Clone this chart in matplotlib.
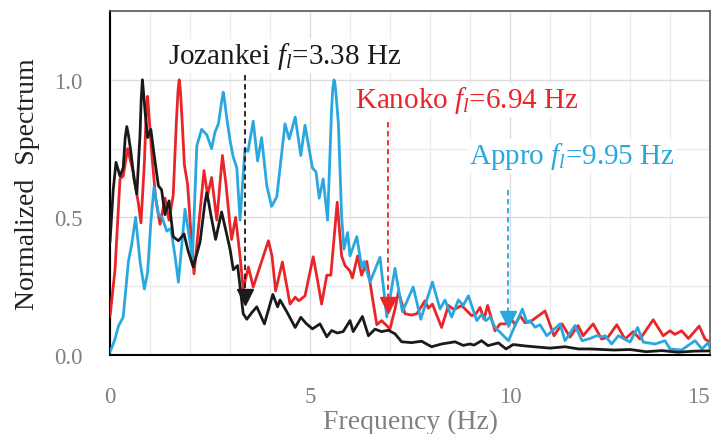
import matplotlib
matplotlib.use("Agg")
import matplotlib.pyplot as plt
import numpy as np

plt.rcParams["font.family"] = ["Liberation Serif", "DejaVu Serif"]
plt.rcParams["mathtext.fontset"] = "custom"
plt.rcParams["mathtext.rm"] = "Liberation Serif"
plt.rcParams["mathtext.it"] = "Liberation Serif:italic"

# Jozankei spectrum
joz_f = [0.0, 0.08, 0.15, 0.25, 0.33, 0.38, 0.42, 0.46, 0.52, 0.6, 0.67, 0.75, 0.78, 0.81, 0.84,
         0.88, 0.94, 1.02, 1.1, 1.21, 1.29, 1.375, 1.475, 1.58, 1.71, 1.85, 1.95, 2.08, 2.25,
         2.37, 2.42, 2.46, 2.52, 2.64, 2.79, 2.9, 3.0, 3.083, 3.19, 3.33, 3.42, 3.55, 3.67, 3.86,
         4.07, 4.19, 4.25, 4.42, 4.63, 4.77, 4.9, 5.06, 5.25, 5.42, 5.54, 5.68, 5.83, 6.0, 6.08,
         6.31, 6.46, 6.625, 6.79, 6.96, 7.125, 7.29, 7.54, 7.79, 8.04, 8.29, 8.625, 8.83, 9.0,
         9.1, 9.29, 9.45, 9.71, 9.9, 10.08, 10.375, 10.6, 11.0, 11.375, 11.71, 12.0, 12.3, 12.6,
         13.0, 13.4, 13.8, 14.2, 14.6, 15.0]
joz_amp = [0.41, 0.60, 0.70, 0.65, 0.68, 0.79, 0.83, 0.80, 0.74, 0.64, 0.585, 0.80, 0.93, 1.0, 0.95,
           0.88, 0.79, 0.82, 0.73, 0.615, 0.60, 0.51, 0.56, 0.43, 0.415, 0.44, 0.38, 0.32, 0.41,
           0.55, 0.59, 0.56, 0.51, 0.42, 0.52, 0.45, 0.385, 0.31, 0.325, 0.15, 0.13, 0.155, 0.175, 0.113,
           0.22, 0.175, 0.20, 0.157, 0.10, 0.137, 0.115, 0.095, 0.113, 0.066, 0.089, 0.08, 0.085, 0.125, 0.085,
           0.14, 0.07, 0.094, 0.085, 0.09, 0.077, 0.048, 0.045, 0.05, 0.03, 0.04, 0.048, 0.035, 0.04,
           0.036, 0.052, 0.034, 0.044, 0.022, 0.038, 0.033, 0.03, 0.025, 0.03, 0.022, 0.022, 0.02, 0.018,
           0.02, 0.012, 0.016, 0.01, 0.014, 0.015]

# Kanoko spectrum
kan_f = [0.0, 0.125, 0.25, 0.33, 0.44, 0.58, 0.71, 0.775, 0.86, 0.91, 0.94, 0.97, 1.04, 1.14,
         1.25, 1.375, 1.475, 1.58, 1.66, 1.70, 1.73, 1.76, 1.8, 1.86, 1.94, 2.02, 2.1, 2.25, 2.35,
         2.44, 2.54, 2.67, 2.81, 2.9, 3.0, 3.04, 3.14, 3.25, 3.33, 3.46, 3.58, 3.79, 3.96, 4.05,
         4.14, 4.31, 4.5, 4.63, 4.72, 4.875, 5.08, 5.19, 5.29, 5.42, 5.52, 5.68, 5.79, 5.875, 6.0,
         6.06, 6.19, 6.29, 6.42, 6.58, 6.67, 6.79, 7.0, 7.125, 7.21, 7.375, 7.54, 7.67, 7.875,
         7.96, 8.06, 8.29, 8.46, 8.6, 8.79, 9.04, 9.15, 9.25, 9.35, 9.44, 9.625, 9.75, 9.875,
         10.04, 10.125, 10.25, 10.375, 10.5, 10.875, 11.1, 11.3, 11.5, 11.7, 11.83, 12.0, 12.08,
         12.29, 12.45, 12.67, 12.875, 13.08, 13.25, 13.58, 13.83, 14.0, 14.12, 14.29, 14.46,
         14.73, 14.875, 15.0]
kan_amp = [0.14, 0.31, 0.64, 0.65, 0.75, 0.665, 0.55, 0.48, 0.70, 0.90, 0.94, 0.88, 0.74, 0.57,
           0.475, 0.57, 0.49, 0.58, 0.85, 0.96, 1.0, 0.96, 0.86, 0.69, 0.62, 0.45, 0.295, 0.52, 0.67,
           0.58, 0.645, 0.49, 0.725, 0.62, 0.47, 0.42, 0.50, 0.36, 0.24, 0.32, 0.247, 0.34, 0.415, 0.36,
           0.233, 0.338, 0.185, 0.21, 0.197, 0.215, 0.357, 0.27, 0.185, 0.29, 0.29, 0.555, 0.36, 0.325, 0.305,
           0.28, 0.36, 0.29, 0.34, 0.19, 0.11, 0.125, 0.095, 0.167, 0.23, 0.15, 0.145, 0.15, 0.197,
           0.17, 0.185, 0.10, 0.18, 0.165, 0.18, 0.143, 0.15, 0.173, 0.13, 0.18, 0.088, 0.113, 0.113,
           0.13, 0.11, 0.143, 0.117, 0.12, 0.16, 0.07, 0.113, 0.065, 0.107, 0.07, 0.10, 0.113,
           0.058, 0.065, 0.11, 0.058, 0.085, 0.058, 0.128, 0.07, 0.088, 0.075, 0.088, 0.06,
           0.105, 0.058, 0.046]

# Appro spectrum
app_f = [0.0, 0.125, 0.21, 0.33, 0.46, 0.54, 0.64, 0.75, 0.86, 0.94, 1.02, 1.1, 1.21, 1.3,
         1.42, 1.52, 1.625, 1.71, 1.875, 1.98, 2.06, 2.17, 2.29, 2.42, 2.54, 2.625, 2.71, 2.8,
         2.83, 2.86, 2.92, 3.0, 3.08, 3.17, 3.25, 3.375, 3.45, 3.58, 3.69, 3.79, 3.92, 4.04, 4.17,
         4.375, 4.48, 4.63, 4.77, 4.875, 5.06, 5.15, 5.23, 5.33, 5.44, 5.54, 5.57, 5.6, 5.63, 5.66,
         5.71, 5.79, 5.85, 5.94, 6.0, 6.17, 6.29, 6.35, 6.5, 6.75, 6.92, 7.125, 7.31, 7.58, 7.77,
         8.06, 8.25, 8.375, 8.54, 8.71, 8.83, 8.96, 9.17, 9.29, 9.4, 9.5, 9.625, 9.96, 10.31,
         10.42, 10.5, 10.625, 10.75, 10.92, 11.25, 11.375, 11.625, 11.8, 12.0, 12.17, 12.3, 12.38,
         12.54, 12.71, 13.0, 13.19, 13.33, 13.625, 13.875, 14.0, 14.29, 14.625, 14.8, 14.96, 15.0]
app_amp = [0.01, 0.058, 0.105, 0.138, 0.34, 0.40, 0.50, 0.34, 0.24, 0.30, 0.48, 0.61, 0.51, 0.50,
           0.45, 0.46, 0.36, 0.265, 0.53, 0.43, 0.35, 0.76, 0.82, 0.80, 0.75, 0.81, 0.84, 0.93,
           0.955, 0.93, 0.86, 0.78, 0.72, 0.68, 0.49, 0.75, 0.74, 0.85, 0.705, 0.79, 0.615, 0.54, 0.575,
           0.84, 0.785, 0.865, 0.725, 0.835, 0.68, 0.665, 0.57, 0.64, 0.49, 0.895, 0.97, 1.0, 0.98, 0.93,
           0.84, 0.505, 0.385, 0.445, 0.36, 0.43, 0.32, 0.34, 0.265, 0.355, 0.138, 0.315, 0.157, 0.247, 0.13,
           0.265, 0.167, 0.20, 0.138, 0.20, 0.18, 0.215, 0.125, 0.148, 0.125, 0.138, 0.101, 0.052, 0.167,
           0.119, 0.125, 0.101, 0.11, 0.07, 0.113, 0.052, 0.107, 0.052, 0.06, 0.07, 0.066, 0.07,
           0.04, 0.07, 0.047, 0.10, 0.047, 0.04, 0.052, 0.022, 0.018, 0.052, 0.022, 0.045, 0.025]

# first natural frequency picks: marker level, top of dashed line, label centre
sites = ["Jozankei", "Kanoko", "Appro"]
f1 = [3.38, 6.94, 9.95]
f1_level = [0.21, 0.18, 0.13]
line_top = [1.05, 0.845, 0.60]
label_xy = [(4.375, 1.087), (8.93, 0.927), (11.55, 0.724)]

black = "#1a1a1a"
red = "#e8262a"
blue = "#29a8e0"
colors = [black, red, blue]

fig = plt.figure(figsize=(7.19, 4.35), dpi=100)
ax = fig.add_axes([0.153, 0.1816, 0.8345, 0.7908])

style = dict(lw=2, solid_joinstyle="round", solid_capstyle="round")
ax.plot(kan_f, kan_amp, color=red, zorder=3, **style)
ax.plot(app_f, app_amp, color=blue, zorder=4, **style)
ax.plot(joz_f, joz_amp, color=black, zorder=5, **style)

for name, f, lv, top, (tx, ty), c in zip(sites, f1, f1_level, line_top, label_xy, colors):
    ax.plot([f, f], [top, lv], color=c, lw=1.3, dashes=(3, 2), zorder=6)
    ax.plot([f], [lv], marker="v", ms=12, color=c, zorder=7)
    ax.text(tx, ty, name + r" $f_l$=" + f"{f:.2f} Hz", color=c, fontsize=21,
            ha="center", va="center", zorder=8,
            bbox=dict(facecolor="white", edgecolor="none", pad=1))

ax.set_xlim(0, 15)
ax.set_ylim(0, 1.25)
ax.set_xticks([0, 5, 10, 15])
ax.set_yticks([0.0, 0.5, 1.0])
ax.set_yticklabels(["0.0", "0.5", "1.0"])
ax.set_xticks(np.arange(0, 16, 1), minor=True)
ax.set_yticks(np.arange(0, 1.26, 0.25), minor=True)
ax.grid(which="minor", color="#ececec", lw=1)
ax.grid(which="major", color="#dcdcdc", lw=1)
ax.set_axisbelow(True)
ax.tick_params(which="both", length=0)
ax.tick_params(axis="x", pad=22, labelsize=16.5, labelcolor="#808080")
ax.tick_params(axis="y", pad=20, labelsize=16.5, labelcolor="#808080")
# keep the last frequency label inside the canvas
ax.get_xticklabels()[-1].set_horizontalalignment("right")
ax.get_xticklabels()[-1].set_x(15.2)

ax.set_xlabel("Frequency (Hz)", fontsize=20, color="#808080", labelpad=2)
ax.set_ylabel("Normalized  Spectrum", fontsize=20, color="#222222", labelpad=10)

for side in ["left", "bottom"]:
    ax.spines[side].set_color("black")
    ax.spines[side].set_linewidth(1.5)
for side in ["top", "right"]:
    ax.spines[side].set_color("#595959")
    ax.spines[side].set_linewidth(1.2)

fig.savefig("out.png", dpi=100)
